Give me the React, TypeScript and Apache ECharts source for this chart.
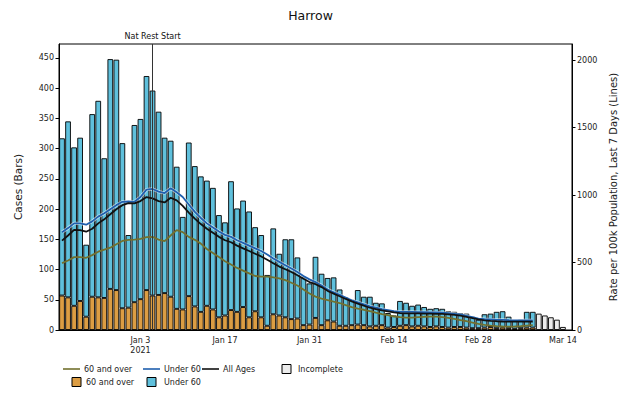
import React, { useEffect, useRef } from "react";
import * as echarts from "echarts";

// ---- Data ----
const startDate = "2020-12-21";
const dayCount = 85; // Dec 21 2020 .. Mar 15 2021 (last slot empty)

const tickDates = ["2021-01-03", "2021-01-17", "2021-01-31", "2021-02-14", "2021-02-28", "2021-03-14"];
const tickLabels = ["Jan 3\n2021", "Jan 17", "Jan 31", "Feb 14", "Feb 28", "Mar 14"];
const leftTicks = [0, 50, 100, 150, 200, 250, 300, 350, 400, 450];
const rightTicks = [0, 500, 1000, 1500, 2000];
const lockdownDate = "2021-01-05";
const lockdownLabel = "Nat Rest Start";

// Dec 21 .. Mar 9 (complete days)
const over60Cases = [
  57, 54, 40, 48, 22, 55, 54, 53, 68, 66, 36, 37, 46, 51, 66, 57, 58, 61, 55, 35, 34,
  56, 39, 30, 40, 34, 21, 24, 33, 30, 38, 21, 31, 21, 7, 26, 24, 21, 18, 19, 8, 9,
  20, 8, 16, 14, 7, 7, 8, 9, 8, 6, 7, 8, 4, 5, 7, 8, 6, 7, 6, 5, 6, 5, 4, 5, 5, 4, 3, 3, 4, 5, 3, 4, 3, 2, 3, 4, 4,
];
const under60Cases = [
  260, 291, 262, 270, 119, 302, 325, 231, 380, 381, 273, 120, 293, 298, 354, 339, 303, 257, 258, 235, 153,
  254, 232, 224, 207, 201, 169, 154, 213, 171, 176, 175, 139, 136, 84, 142, 102, 129, 132, 101, 80, 68,
  101, 85, 70, 73, 60, 47, 42, 57, 47, 49, 38, 36, 24, 19, 41, 37, 34, 35, 32, 30, 30, 30, 27, 25, 23, 23, 19, 14, 22, 22, 27, 27, 19, 14, 14, 26, 26,
];
// Mar 10 .. Mar 14 (incomplete days)
const incompleteCases = [27, 24, 21, 17, 5];

// Rate per 100k, last 7 days (Dec 21 .. Mar 9)
const over60Rate = [
  495, 515, 540, 540, 535, 555, 580, 595, 610, 635, 660, 668, 670, 675, 688, 690, 670, 658, 700, 740, 725,
  690, 668, 640, 600, 570, 540, 510, 485, 460, 440, 420, 400, 395, 395, 390, 383, 370, 350, 330, 300, 270,
  247, 232, 222, 210, 200, 185, 170, 158, 150, 140, 128, 118, 110, 100, 95, 92, 92, 95, 98, 99, 99, 96, 90, 82, 74, 65, 55, 45, 38, 32, 28, 26, 25, 26, 28, 32, 36,
];
const under60Rate = [
  725, 755, 790, 790, 780, 805, 840, 865, 895, 925, 950, 952, 950, 985, 1040, 1045, 1025, 1015, 1050, 1020, 985,
  930, 875, 830, 790, 760, 730, 705, 690, 665, 645, 625, 605, 585, 560, 530, 505, 480, 455, 430, 400, 375,
  355, 330, 300, 280, 260, 240, 220, 205, 190, 175, 165, 155, 148, 140, 135, 135, 135, 133, 132, 130, 130, 128, 125, 120, 115, 105, 95, 85, 80, 78, 75, 75, 73, 72, 72, 72, 72,
];
const allAgesRate = [
  662, 700, 742, 740, 728, 750, 790, 820, 858, 895, 925, 940, 938, 955, 985, 975, 955, 945, 980, 960, 920,
  870, 825, 785, 750, 720, 690, 665, 650, 625, 605, 585, 565, 545, 520, 495, 470, 450, 430, 405, 380, 355,
  340, 318, 290, 270, 250, 230, 212, 196, 180, 165, 155, 145, 138, 130, 125, 123, 123, 123, 122, 121, 120, 119, 116, 112, 106, 98, 88, 78, 72, 68, 65, 63, 62, 62, 62, 62, 62,
];

// ---- helpers ----
function buildCategories(start: string, n: number): string[] {
  const out: string[] = [];
  const d0 = new Date(start + "T00:00:00Z").getTime();
  for (let i = 0; i < n; i++) {
    out.push(new Date(d0 + i * 86400000).toISOString().slice(0, 10));
  }
  return out;
}
const categories = buildCategories(startDate, dayCount);

function pad(values: number[], offset: number): (number | null)[] {
  const arr: (number | null)[] = new Array(dayCount).fill(null);
  values.forEach((v, i) => (arr[offset + i] = v));
  return arr;
}

const FONT = "DejaVu Sans";
const C_OVER_BAR = "#dc9d43";
const C_UNDER_BAR = "#5fc0dc";
const C_INCOMPLETE = "#ececec";
const C_OVER_LINE = "#72702e";
const C_UNDER_LINE = "#1f5fae";
const C_ALL_LINE = "#111111";

export default function App() {
  const ref = useRef<HTMLDivElement>(null);

  useEffect(() => {
    if (!ref.current) return;
    const chart = echarts.init(ref.current, undefined, { renderer: "svg" });
    const isTick = (_i: number, v: string) => tickDates.indexOf(v) >= 0;
    const nComplete = over60Cases.length;

    const legendText = (x: number, y: number, text: string) => ({
      type: "text",
      x,
      y,
      style: { text, fontSize: 8, fontFamily: FONT, fill: "#222", verticalAlign: "middle" },
    });
    const legendLine = (x: number, y: number, color: string) => ({
      type: "line",
      shape: { x1: x, y1: y, x2: x + 17, y2: y },
      style: { stroke: color, lineWidth: 1.6 },
    });
    const legendBox = (x: number, y: number, color: string) => ({
      type: "rect",
      shape: { x, y: y - 4.5, width: 9, height: 9 },
      style: { fill: color, stroke: "#000", lineWidth: 1 },
    });

    chart.setOption({
      animation: false,
      backgroundColor: "#fff",
      title: {
        text: "Harrow",
        left: "center",
        top: 4,
        textStyle: { fontFamily: FONT, fontSize: 12.5, fontWeight: "normal", color: "#111" },
      },
      grid: {
        left: 59,
        right: 49,
        top: 44,
        bottom: 63,
        show: true,
        borderColor: "#000",
        borderWidth: 1,
        backgroundColor: "transparent",
        outerBoundsMode: "none",
      },
      xAxis: {
        type: "category",
        data: categories,
        boundaryGap: true,
        axisLine: { lineStyle: { color: "#000", width: 1 } },
        axisTick: { alignWithLabel: true, interval: isTick, length: 3.5, lineStyle: { color: "#000" } },
        axisLabel: {
          interval: isTick,
          formatter: (v: string) => tickLabels[tickDates.indexOf(v)] ?? "",
          fontFamily: FONT,
          fontSize: 8,
          color: "#222",
          margin: 5,
          lineHeight: 10,
        },
        splitLine: { show: false },
      },
      yAxis: [
        {
          type: "value",
          min: 0,
          max: 473,
          name: "Cases (Bars)",
          nameLocation: "middle",
          nameGap: 36,
          nameRotate: 90,
          nameTextStyle: { fontFamily: FONT, fontSize: 10.5, color: "#222" },
          axisLine: { show: true, lineStyle: { color: "#000" } },
          axisTick: { show: true, customValues: leftTicks, length: 3.5, lineStyle: { color: "#000" } },
          axisLabel: {
            customValues: leftTicks,
            formatter: (v: number) => String(v),
            fontFamily: FONT,
            fontSize: 8,
            color: "#222",
            margin: 5,
          },
          splitLine: { show: false },
        },
        {
          type: "value",
          min: 0,
          max: 2119,
          position: "right",
          name: "Rate per 100k Population, Last 7 Days (Lines)",
          nameLocation: "middle",
          nameGap: 32,
          nameRotate: 90,
          nameTextStyle: { fontFamily: FONT, fontSize: 10, color: "#222" },
          axisLine: { show: true, lineStyle: { color: "#000" } },
          axisTick: { show: true, customValues: rightTicks, length: 3.5, lineStyle: { color: "#000" } },
          axisLabel: {
            customValues: rightTicks,
            formatter: (v: number) => String(v),
            fontFamily: FONT,
            fontSize: 8,
            color: "#222",
            margin: 5,
          },
          splitLine: { show: false },
        },
      ],
      series: [
        {
          name: "60 and over",
          type: "bar",
          stack: "cases",
          barCategoryGap: "6%",
          data: pad(over60Cases, 0),
          itemStyle: { color: C_OVER_BAR, borderColor: "#000", borderWidth: 0.9 },
          markLine: {
            silent: true,
            symbol: "none",
            lineStyle: { color: "#333", width: 1, type: "solid" },
            label: {
              show: true,
              position: "end",
              formatter: lockdownLabel,
              fontFamily: FONT,
              fontSize: 8,
              color: "#111",
              distance: 4,
            },
            data: [{ xAxis: lockdownDate }],
          },
        },
        {
          name: "Under 60",
          type: "bar",
          stack: "cases",
          data: pad(under60Cases, 0),
          itemStyle: { color: C_UNDER_BAR, borderColor: "#000", borderWidth: 0.9 },
        },
        {
          name: "Incomplete",
          type: "bar",
          stack: "cases",
          data: pad(incompleteCases, nComplete),
          itemStyle: { color: C_INCOMPLETE, borderColor: "#000", borderWidth: 0.9 },
        },
        {
          name: "60 and over rate",
          type: "line",
          yAxisIndex: 1,
          data: pad(over60Rate, 0),
          symbol: "none",
          lineStyle: { color: C_OVER_LINE, width: 1.8 },
          z: 3,
        },
        {
          name: "Under 60 halo",
          type: "line",
          yAxisIndex: 1,
          data: pad(under60Rate, 0),
          symbol: "none",
          silent: true,
          lineStyle: { color: "#ffffff", width: 3.2, opacity: 0.6 },
          z: 3,
        },
        {
          name: "Under 60 rate",
          type: "line",
          yAxisIndex: 1,
          data: pad(under60Rate, 0),
          symbol: "none",
          lineStyle: { color: C_UNDER_LINE, width: 1.8 },
          z: 3,
        },
        {
          name: "All Ages",
          type: "line",
          yAxisIndex: 1,
          data: pad(allAgesRate, 0),
          symbol: "none",
          lineStyle: { color: C_ALL_LINE, width: 1.8 },
          z: 3,
        },
      ],
      graphic: [
        legendLine(63, 369, C_OVER_LINE),
        legendText(84, 369, "60 and over"),
        legendLine(143, 369, C_UNDER_LINE),
        legendText(164, 369, "Under 60"),
        legendLine(202, 369, C_ALL_LINE),
        legendText(223, 369, "All Ages"),
        legendBox(282, 369, C_INCOMPLETE),
        legendText(298, 369, "Incomplete"),
        legendBox(72, 382, C_OVER_BAR),
        legendText(86, 382, "60 and over"),
        legendBox(147, 382, C_UNDER_BAR),
        legendText(164, 382, "Under 60"),
      ],
    });

    return () => chart.dispose();
  }, []);

  return (
    <div
      ref={ref}
      style={{ position: "fixed", left: 0, top: 0, width: 621, height: 393, background: "#fff" }}
    />
  );
}
